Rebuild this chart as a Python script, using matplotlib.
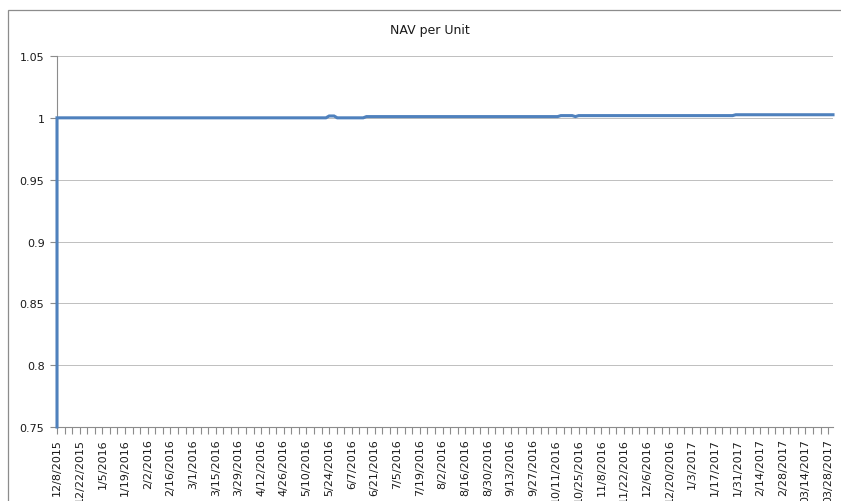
import numpy as np
import matplotlib
matplotlib.use("Agg")
import matplotlib.pyplot as plt
import matplotlib.dates as mdates
from matplotlib.patches import Rectangle
from datetime import datetime


# Datos (fechas de cambio y valor NAV)
fechas = ['2015-12-08', '2015-12-08', '2016-05-22', '2016-05-24', '2016-05-27',
          '2016-05-29', '2016-06-14', '2016-06-16', '2016-10-12', '2016-10-14',
          '2016-10-21', '2016-10-23', '2016-10-25', '2017-01-28', '2017-01-30',
          '2017-03-31']
nav = [0.75, 1.0000, 1.0000, 1.0015, 1.0015,
       1.0000, 1.0000, 1.0010, 1.0010, 1.0018,
       1.0018, 1.0010, 1.0018, 1.0018, 1.0025,
       1.0025]

etiquetas_x = ['12/8/2015', '12/22/2015', '1/5/2016', '1/19/2016', '2/2/2016',
               '2/16/2016', '3/1/2016', '3/15/2016', '3/29/2016', '4/12/2016',
               '4/26/2016', '5/10/2016', '5/24/2016', '6/7/2016', '6/21/2016',
               '7/5/2016', '7/19/2016', '8/2/2016', '8/16/2016', '8/30/2016',
               '9/13/2016', '9/27/2016', '10/11/2016', '10/25/2016', '11/8/2016',
               '11/22/2016', '12/6/2016', '12/20/2016', '1/3/2017', '1/17/2017',
               '1/31/2017', '2/14/2017', '2/28/2017', '03/14/2017', '03/28/2017']
ticks_y = [0.75, 0.8, 0.85, 0.9, 0.95, 1, 1.05]
etiquetas_y = ['0.75', '0.8', '0.85', '0.9', '0.95', '1', '1.05']

x = mdates.date2num([datetime.strptime(f, '%Y-%m-%d') for f in fechas])
pos_x = mdates.date2num([datetime.strptime(e, '%m/%d/%Y') for e in etiquetas_x])

gris = '#8c8c8c'
texto = '#1a1a1a'

fig = plt.figure(figsize=(8.41, 5.02), dpi=100)
ax = fig.add_axes([57/841, 1 - 428/502, (833 - 57)/841, (428 - 57)/502])

# Borde del área del gráfico
fig.patches.append(Rectangle((8/841, -0.1), 1.2, 1.1 - 10.5/502,
                             transform=fig.transFigure, fill=False,
                             edgecolor=gris, linewidth=0.9))

ax.plot(x, nav, color='#4F81BD', linewidth=2.2, solid_joinstyle='miter',
        clip_on=False, zorder=3)

ax.set_xlim(x[0], x[-1])
ax.set_ylim(0.75, 1.05)

ax.set_yticks(ticks_y, etiquetas_y)
ax.set_xticks(pos_x, etiquetas_x, rotation=90)
ax.set_xticks(np.arange(pos_x[0], x[-1], 14/3), minor=True)

ax.yaxis.grid(True, color='#b4b4b4', linewidth=0.6)
ax.set_axisbelow(True)

for lado in ['top', 'right']:
    ax.spines[lado].set_visible(False)
for lado in ['left', 'bottom']:
    ax.spines[lado].set_color(gris)
    ax.spines[lado].set_linewidth(0.8)

ax.tick_params(axis='both', which='both', color=gris, width=0.8,
               labelsize=8, labelcolor=texto)
ax.tick_params(axis='x', which='major', length=5, pad=3)
ax.tick_params(axis='x', which='minor', length=5)
ax.tick_params(axis='y', length=5, pad=4)

fig.text(430/841, 1 - 31/502, 'NAV per Unit', ha='center', va='center',
         fontsize=9, color=texto)

fig.savefig('out.png', dpi=100)
